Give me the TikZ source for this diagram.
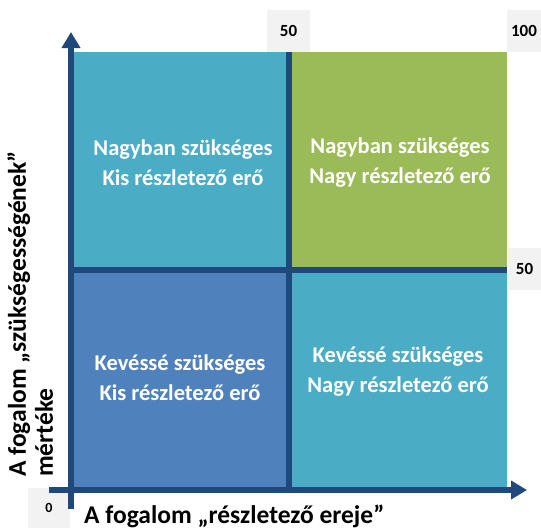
\documentclass[tikz,border=0pt]{standalone}
\usepackage{fontspec}
\setmainfont{Carlito}
\usetikzlibrary{arrows.meta}
\definecolor{teal}{HTML}{4BACC6}
\definecolor{qblue}{HTML}{4F81BD}
\definecolor{qgreen}{HTML}{9BBB59}
\definecolor{axisblue}{HTML}{1F497D}
\definecolor{tickgrey}{HTML}{F2F2F2}
\begin{document}
\begin{tikzpicture}[x=1pt,y=-1pt,
  quad/.style={draw=none,inner sep=0pt,outer sep=0pt,text=white,font=\fontsize{22.5}{30}\selectfont\bfseries,align=center},
  tick/.style={fill=tickgrey,inner sep=0pt,outer sep=0pt,font=\fontsize{17}{19}\selectfont\bfseries},
  divider/.style={draw=axisblue,line width=6pt},
  axis/.style={draw=axisblue,line width=6pt,-{Triangle[width=18pt,length=16pt]}},
  axlabel/.style={inner sep=0pt,font=\fontsize{25.5}{27}\selectfont\bfseries}]
\useasboundingbox (0,0) rectangle (541,528);
% quadrants
\fill[teal] (71,52) rectangle (289,270);
\fill[qgreen] (289,52) rectangle (507,270);
\fill[qblue] (71,270) rectangle (289,488);
\fill[teal] (289,270) rectangle (507,488);
\node[quad] (tl) at (183,163) {Nagyban szükséges\\Kis részletező erő};
\node[quad] (tr) at (400,163) {Nagyban szükséges\\Nagy részletező erő};
\node[quad] (bl) at (180,378) {Kevéssé szükséges\\Kis részletező erő};
\node[quad] (br) at (398,372) {Kevéssé szükséges\\Nagy részletező erő};
% tick labels
\node[tick,minimum width=43pt,minimum height=42pt] (t50) at (288.5,31) {50};
\node[tick,minimum width=34pt,minimum height=42pt,anchor=west] (t100) at (507,31) {100};
\node[tick,minimum width=33pt,minimum height=42pt,anchor=west] (r50) at (508,269) {50};
\node[tick,minimum width=42pt,minimum height=40pt,font=\fontsize{14}{16}\selectfont\bfseries] (t0) at (49,508) {0};
% dividers
\coordinate (vtop) at (289,52);
\coordinate (vbot) at (289,488);
\coordinate (hl) at (71,270);
\coordinate (hr) at (507,270);
\draw[divider] (vtop) -- (vbot);
\draw[divider] (hl) -- (hr);
% axes
\coordinate (ys) at (71,509);
\coordinate (ye) at (71,32);
\coordinate (xs) at (49,490);
\coordinate (xe) at (527,490);
\draw[axis] (ys) -- (ye);
\draw[axis] (xs) -- (xe);
% axis labels
\node[axlabel,anchor=base west] (xl) at (84,523) {A fogalom „részletező ereje”};
\node[axlabel,rotate=90,anchor=north west,align=left] (yl) at (7,477) {A fogalom „szükségességének”\\mértéke};
\end{tikzpicture}
\end{document}
